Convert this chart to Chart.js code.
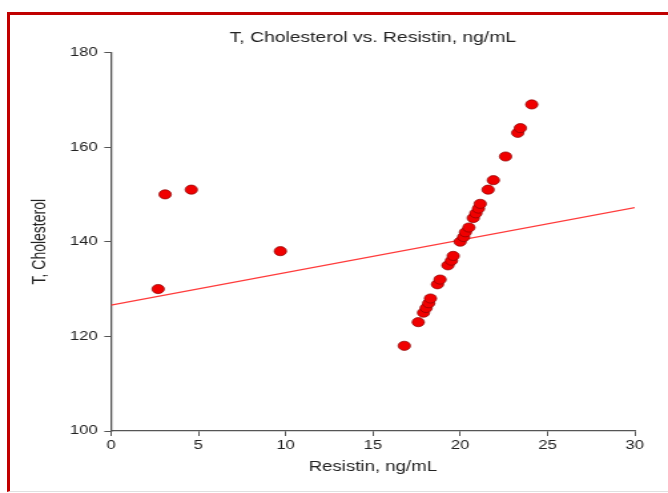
<!DOCTYPE html>
<html>
<head>
<meta charset="utf-8">
<script src="https://cdn.jsdelivr.net/npm/chart.js@4"></script>
<style>
  body { margin: 0; background: #fff; }
  #wrap { position: relative; width: 668px; height: 493px; overflow: hidden; }
  #frame { position: absolute; left: 7px; top: 12px; width: 680px; height: 476px;
           border-left: 3px solid #c00000; border-top: 3px solid #c00000;
           border-bottom: 1px solid #e0e0e0; }
  /* the original picture is stretched sideways, so draw narrow and widen */
  canvas { position: absolute; left: 0; top: 0; transform: scaleX(1.3307); transform-origin: 0 0; }
</style>
</head>
<body>
<div id="wrap">
  <div id="frame"></div>
  <canvas id="chart" width="502" height="493"></canvas>
</div>
<script>
// Resistin (ng/mL) vs T, Cholesterol
const resistin = [2.7, 3.1, 4.6, 9.7, 16.8, 17.6, 17.9, 18.05, 18.2, 18.3, 18.7, 18.85,
  19.3, 19.5, 19.6, 20.0, 20.2, 20.3, 20.5, 20.75, 20.9, 21.05, 21.15, 21.6, 21.9,
  22.6, 23.3, 23.45, 24.1];
const cholesterol = [130, 150, 151, 138, 118, 123, 125, 126, 127, 128, 131, 132,
  135, 136, 137, 140, 141, 142, 143, 145, 146, 147, 148, 151, 153,
  158, 163, 164, 169];

// fitted line ends
const fitX = [0, 30];
const fitY = [126.6, 147.2];

const xTicks = [0, 5, 10, 15, 20, 25, 30];
const yTicks = [100, 120, 140, 160, 180];

const font = "'Liberation Sans', Arial, sans-serif";
const axisColor = '#555';

new Chart(document.getElementById('chart').getContext('2d'), {
  type: 'scatter',
  data: {
    datasets: [
      {
        label: 'Fit',
        data: fitX.map((x, i) => ({ x, y: fitY[i] })),
        showLine: true,
        borderColor: '#ff3b3b',
        borderWidth: 1.1,
        pointRadius: 0,
        order: 2
      },
      {
        label: 'T, Cholesterol',
        data: resistin.map((x, i) => ({ x, y: cholesterol[i] })),
        pointRadius: 4.6,
        backgroundColor: '#f00000',
        borderColor: '#8a0000',
        borderWidth: 0.7,
        order: 1
      }
    ]
  },
  options: {
    responsive: false,
    animation: false,
    layout: { padding: { top: 23, right: 25, left: 0, bottom: 0 } },
    plugins: {
      legend: { display: false },
      tooltip: { enabled: false },
      title: {
        display: true,
        fullSize: false, // center over the plot area
        text: 'T, Cholesterol vs. Resistin, ng/mL',
        color: '#222',
        font: { family: font, size: 14.5, weight: 'normal' },
        padding: { top: 6, bottom: 6 }
      }
    },
    scales: {
      x: {
        type: 'linear',
        min: 0, max: 30,
        afterBuildTicks: s => { s.ticks = xTicks.map(v => ({ value: v })); },
        afterFit: s => { s.height = 62; },
        grid: { drawOnChartArea: false, tickLength: 5, color: axisColor },
        border: { color: axisColor, width: 1.3 },
        ticks: { color: '#222', padding: 2, maxRotation: 0, font: { family: font, size: 12.5 } },
        title: {
          display: true,
          text: 'Resistin, ng/mL',
          color: '#222',
          font: { family: font, size: 14 },
          padding: { top: 4, bottom: 17.5 }
        }
      },
      y: {
        type: 'linear',
        min: 100, max: 180,
        afterBuildTicks: s => { s.ticks = yTicks.map(v => ({ value: v })); },
        afterFit: s => { s.width = 83.4; },
        grid: { drawOnChartArea: false, tickLength: 5, color: axisColor },
        border: { color: axisColor, width: 1.3 },
        ticks: { color: '#222', padding: 5, font: { family: font, size: 12.5 } },
        title: {
          display: true,
          text: 'T, Cholesterol',
          color: '#222',
          font: { family: font, size: 14 },
          padding: { top: 21.6, bottom: 0 }
        }
      }
    }
  }
});
</script>
</body>
</html>
